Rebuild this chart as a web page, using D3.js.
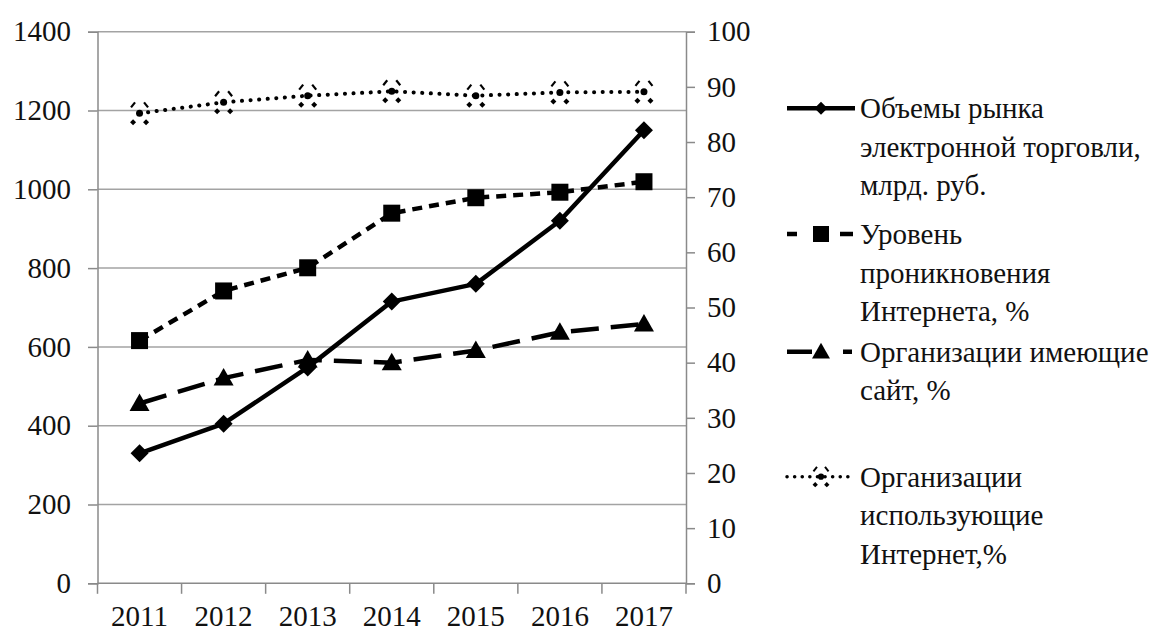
<!DOCTYPE html>
<html>
<head>
<meta charset="utf-8">
<script src="https://cdn.jsdelivr.net/npm/d3@7"></script>
<style>
  html, body { margin: 0; padding: 0; background: #fff; }
  svg { display: block; }
  svg text { font-family: "Times New Roman", Times, "Liberation Serif", Tinos, "DejaVu Serif", "Noto Serif", FreeSerif, serif; fill: #111; }
</style>
</head>
<body>
<svg id="chart" width="1172" height="633"></svg>
<script>
// ---- data ----
const years = ["2011", "2012", "2013", "2014", "2015", "2016", "2017"];
const ecommerce = [330, 405, 548, 715, 760, 920, 1150];        // left axis, bln rub
const penetration = [44, 53, 57.2, 67.1, 69.9, 70.9, 72.8];     // right axis, %
const withSite = [32.6, 37.2, 40.5, 40.0, 42.2, 45.5, 47.0];    // right axis, %
const usingInternet = [85.2, 87.2, 88.4, 89.2, 88.4, 89.0, 89.1]; // right axis, %
const leftTicks = [0, 200, 400, 600, 800, 1000, 1200, 1400];
const rightTicks = [0, 10, 20, 30, 40, 50, 60, 70, 80, 90, 100];
const legendLabels = [
  ["Объемы рынка", "электронной торговли,", "млрд. руб."],
  ["Уровень", "проникновения", "Интернета, %"],
  ["Организации имеющие", "сайт, %"],
  ["Организации", "использующие", "Интернет,%"]
];

// ---- layout ----
const svg = d3.select("#chart");
const L = 97.5, R = 686, T = 31.7, B = 583.3;
const x = d3.scaleBand().domain(years).range([L, R]).padding(0);
const yL = d3.scaleLinear().domain([0, 1400]).range([B, T]);
const yR = d3.scaleLinear().domain([0, 100]).range([B, T]);
const cx = d => x(d) + x.bandwidth() / 2;

const gridColor = "#a3a3a3", axisColor = "#8a8a8a";
const fontSize = 29;

// gridlines
svg.append("g").selectAll("line").data(leftTicks.slice(1)).join("line")
  .attr("x1", L).attr("x2", R)
  .attr("y1", d => yL(d)).attr("y2", d => yL(d))
  .attr("stroke", gridColor).attr("stroke-width", 1.5);

// left axis
const gl = svg.append("g").attr("transform", `translate(${L},0)`)
  .call(d3.axisLeft(yL).tickValues(leftTicks).tickSize(9.5).tickPadding(17).tickFormat(d3.format("d")));
// right axis
const gr = svg.append("g").attr("transform", `translate(${R},0)`)
  .call(d3.axisRight(yR).tickValues(rightTicks).tickSize(9).tickPadding(12).tickFormat(d3.format("d")));
// bottom axis (labels only; ticks on band edges)
const gb = svg.append("g").attr("transform", `translate(0,${B})`)
  .call(d3.axisBottom(x).tickSize(0).tickPadding(22));
gb.select(".domain").remove();
svg.append("line").attr("x1", L).attr("x2", R).attr("y1", B).attr("y2", B)
  .attr("stroke", axisColor).attr("stroke-width", 1.5);
const edges = years.map(d => x(d)).concat([x.range()[1]]);
svg.append("g").selectAll("line").data(edges).join("line")
  .attr("x1", d => d).attr("x2", d => d).attr("y1", B).attr("y2", B + 10.5)
  .attr("stroke", axisColor).attr("stroke-width", 1.5);

[gl, gr, gb].forEach(g => {
  g.attr("font-family", null).attr("font-size", fontSize);
  g.selectAll(".domain").attr("stroke", axisColor).attr("stroke-width", 1.5);
  g.selectAll(".tick line").attr("stroke", axisColor).attr("stroke-width", 1.5);
  g.selectAll("text").attr("font-size", fontSize).attr("fill", "#111");
});

// ---- series ----
const lineL = d3.line().x((d, i) => cx(years[i])).y(d => yL(d));
const lineR = d3.line().x((d, i) => cx(years[i])).y(d => yR(d));

const series = [
  { vals: ecommerce, scale: yL, gen: lineL, dash: null, width: 4.5, marker: "diamond" },
  { vals: penetration, scale: yR, gen: lineR, dash: "10,7", width: 4.5, marker: "square" },
  { vals: withSite, scale: yR, gen: lineR, dash: "28,12", width: 4.5, marker: "triangle" },
  { vals: usingInternet, scale: yR, gen: lineR, dash: "0.1,8.5", width: 4, marker: "dots", cap: "round" }
];

function drawMarker(g, kind, px, py, s) {
  if (kind === "diamond") {
    g.append("path").attr("d", `M${px},${py - s}L${px + s},${py}L${px},${py + s}L${px - s},${py}Z`).attr("fill", "#000");
  } else if (kind === "square") {
    g.append("rect").attr("x", px - s).attr("y", py - s).attr("width", 2 * s).attr("height", 2 * s).attr("fill", "#000");
  } else if (kind === "triangle") {
    g.append("path").attr("d", `M${px},${py - s}L${px + s},${py + s * 0.75}L${px - s},${py + s * 0.75}Z`).attr("fill", "#000");
  } else if (kind === "dots") {
    const k = s / 9;
    g.append("circle").attr("cx", px).attr("cy", py).attr("r", 3.5 * k).attr("fill", "#000");
    [[-6.5, 9], [6.5, 9]].forEach(([dx, dy]) => {
      const r = 3 * k, X = px + dx * k, Y = py + dy * k;
      g.append("path").attr("d", `M${X},${Y - r}L${X + r},${Y}L${X},${Y + r}L${X - r},${Y}Z`).attr("fill", "#000");
    });
    [[-6.5, -8.5, 1], [6.5, -8.5, -1]].forEach(([dx, dy, sg]) => {
      const X = px + dx * k, Y = py + dy * k;
      g.append("line").attr("x1", X - 2 * k * sg).attr("y1", Y + 2.5 * k).attr("x2", X + 2 * k * sg).attr("y2", Y - 2.5 * k)
        .attr("stroke", "#000").attr("stroke-width", 2.2 * k);
    });
  }
}
const markerSize = { diamond: 9, square: 8.5, triangle: 10, dots: 9 };

series.forEach(s => {
  svg.append("path").datum(s.vals).attr("d", s.gen)
    .attr("fill", "none").attr("stroke", "#000").attr("stroke-width", s.width)
    .attr("stroke-dasharray", s.dash).attr("stroke-linecap", s.cap || "butt")
    .attr("stroke-linejoin", "round");
  const mg = svg.append("g");
  s.vals.forEach((v, i) => drawMarker(mg, s.marker, cx(years[i]), s.scale(v), markerSize[s.marker]));
});

// ---- legend ----
const legendY = [108.3, 234, 351.7, 476.7];
const lx1 = 787, lx2 = 855, lmid = 821, tx = 860, lineH = 38.5;
const legendDash = [null, "10,43,13,100", "25,31,9,100", "0.1,7.5"];
const legendMarkerSize = { diamond: 6.5, square: 8, triangle: 9, dots: 8 };
series.forEach((s, k) => {
  const g = svg.append("g");
  const y0 = legendY[k];
  g.append("line").attr("x1", lx1).attr("x2", lx2).attr("y1", y0).attr("y2", y0)
    .attr("stroke", "#000").attr("stroke-width", s.marker === "dots" ? 3.5 : 4.5)
    .attr("stroke-dasharray", legendDash[k]).attr("stroke-linecap", s.cap || "butt");
  drawMarker(g, s.marker, lmid, y0, legendMarkerSize[s.marker]);
  g.append("text").attr("x", tx).attr("y", y0 + 10).attr("font-size", fontSize)
    .selectAll("tspan").data(legendLabels[k]).join("tspan")
    .attr("x", tx).attr("dy", (d, i) => i === 0 ? 0 : lineH).text(d => d);
});
</script>
</body>
</html>
